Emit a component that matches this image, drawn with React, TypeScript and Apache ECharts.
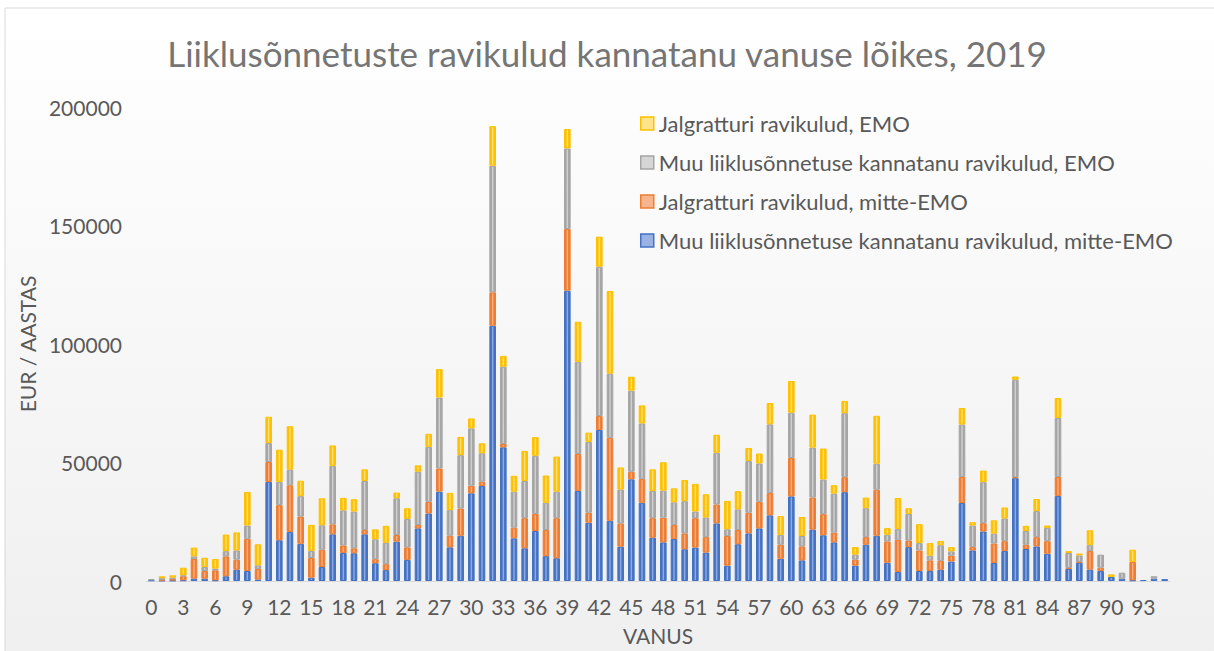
import React, { useEffect, useRef } from "react";
import * as echarts from "echarts";

const ages: string[] = Array.from({ length: 96 }, (_, i) => String(i));

const muuMitteEmo = [
  300, 200, 200, 300, 1000, 1000, 300, 2000, 4800, 4200,
  600, 41800, 17200, 20700, 15700, 1400, 5900, 19700, 11800, 11700,
  19700, 7500, 4600, 16600, 8900, 22200, 28500, 37700, 14200, 19100,
  37000, 40100, 107700, 56400, 18000, 13800, 21100, 10500, 9600, 122500,
  38000, 24600, 63700, 25400, 14500, 42900, 33000, 18300, 16300, 17700,
  13400, 14100, 12000, 24300, 6500, 15500, 20100, 22200, 27700, 9400,
  35700, 8700, 21700, 19300, 16300, 37500, 6500, 15300, 19100, 7700,
  3800, 14300, 4200, 4200, 4800, 8200, 32900, 12900, 20900, 7600,
  12700, 43400, 13500, 14600, 11500, 35900, 5100, 7700, 4800, 4200,
  1700, 1000, 300, 400, 1000, 800,
];

const jalgMitteEmo = [
  0, 300, 600, 1700, 8300, 3200, 4200, 8400, 4200, 13600,
  4500, 8400, 14800, 19700, 11500, 8300, 7300, 4200, 3200, 2100,
  1800, 1700, 2500, 2800, 5300, 1400, 4900, 9800, 4900, 11500,
  3200, 1800, 14100, 1400, 4500, 12700, 7200, 11000, 16900, 26000,
  15600, 4200, 5900, 35000, 9800, 3200, 10000, 8200, 10400, 5900,
  6700, 12400, 6500, 8000, 12500, 6000, 8700, 11200, 9400, 5900,
  16200, 5900, 13500, 8900, 4100, 6300, 2500, 3200, 19400, 9000,
  13600, 2800, 8700, 4500, 3700, 2500, 11000, 1400, 3500, 8200,
  4100, 400, 1800, 3900, 5300, 8000, 400, 300, 7900, 1400,
  0, 0, 7700, 0, 0, 0,
];

const muuEmo = [
  500, 700, 600, 400, 1100, 1700, 700, 2200, 3900, 5600,
  1500, 8000, 9800, 6600, 8600, 3000, 10300, 24700, 14800, 15500,
  20700, 8400, 9000, 15500, 12000, 22500, 23200, 29900, 10800, 22500,
  24200, 12000, 53400, 32600, 15200, 15700, 24500, 11500, 11200, 34000,
  38900, 29900, 63000, 27100, 14300, 34200, 23500, 11500, 11400, 9600,
  13600, 2800, 8300, 21800, 2800, 8700, 21800, 16200, 29000, 4200,
  19100, 4400, 21100, 14600, 16500, 27000, 2100, 12200, 11000, 2800,
  4500, 11200, 3100, 2000, 6600, 1800, 22100, 9100, 17300, 4200,
  9600, 41100, 5800, 11000, 5600, 24900, 6300, 2800, 2400, 5500,
  0, 2500, 0, 0, 1000, 0,
];

const jalgEmo = [
  0, 800, 1000, 3200, 3700, 3900, 4100, 7000, 7600, 14200,
  8900, 11100, 13600, 18300, 6500, 11000, 11400, 8600, 5300, 5200,
  4900, 4200, 7200, 2400, 4500, 2700, 5500, 12000, 7300, 7700,
  4200, 4200, 16700, 4600, 6700, 12700, 7900, 11500, 14800, 8200,
  16900, 3900, 12700, 34900, 9300, 5900, 7600, 9100, 12000, 5900,
  8900, 11700, 9800, 7600, 12000, 7700, 5500, 4200, 9000, 7900,
  13400, 8000, 13900, 13100, 3500, 5200, 3200, 4500, 20200, 2800,
  13100, 2400, 8000, 5300, 1800, 1800, 7000, 1400, 4900, 5600,
  4600, 1400, 2200, 5100, 1000, 8400, 800, 800, 6300, 0,
  1100, 0, 5200, 0, 0, 0,
];

const seriesNames = [
  "Muu liiklusõnnetuse kannatanu ravikulud, mitte-EMO",
  "Jalgratturi ravikulud, mitte-EMO",
  "Muu liiklusõnnetuse kannatanu ravikulud, EMO",
  "Jalgratturi ravikulud, EMO",
];
const seriesData = [muuMitteEmo, jalgMitteEmo, muuEmo, jalgEmo];
const mainColors = ["#4472C4", "#ED7D31", "#A5A5A5", "#FFC000"];
const lightColors = ["#9BB3E2", "#F7B58E", "#D6D6D6", "#FFE48A"];

const FONT = "Lato, 'Open Sans', sans-serif";

export default function App() {
  const ref = useRef<HTMLDivElement>(null);

  useEffect(() => {
    if (!ref.current) return;
    const chart = echarts.init(ref.current, undefined, { renderer: "svg" });

    const series = seriesNames.map((name, i) => ({
      name,
      type: "bar",
      stack: "total",
      barCategoryGap: "38%",
      data: seriesData[i].map((v) => (v === 0 ? null : v)),
      itemStyle: {
        color: new echarts.graphic.LinearGradient(1, 0, 0, 0, [
          { offset: 0, color: mainColors[i] },
          { offset: 0.28, color: mainColors[i] },
          { offset: 0.5, color: lightColors[i] },
          { offset: 0.72, color: mainColors[i] },
          { offset: 1, color: mainColors[i] },
        ]),
        borderColor: mainColors[i],
        borderWidth: 1,
      },
      emphasis: { disabled: true },
    }));

    const legendOrder = [3, 2, 1, 0];

    chart.setOption({
      animation: false,
      graphic: [
        {
          type: "rect",
          z: -10,
          silent: true,
          shape: { x: 5, y: 8, width: 1240, height: 700 },
          style: {
            fill: new echarts.graphic.LinearGradient(0, 0, 0, 1, [
              { offset: 0, color: "#ffffff" },
              { offset: 1, color: "#eeeeee" },
            ]),
            stroke: "#d9d9d9",
            lineWidth: 1,
          },
        },
      ],
      title: {
        text: "Liiklusõnnetuste ravikulud kannatanu vanuse lõikes, 2019",
        left: "center",
        top: 30,
        textStyle: {
          fontFamily: FONT,
          fontSize: 35,
          fontWeight: "normal",
          color: "#757575",
        },
      },
      legend: {
        orient: "vertical",
        left: 635,
        top: 106,
        itemWidth: 13,
        itemHeight: 13,
        itemGap: 14,
        icon: "rect",
        textStyle: {
          fontFamily: FONT,
          fontSize: 22,
          color: "#595959",
          lineHeight: 25,
        },
        data: legendOrder.map((i) => ({
          name: seriesNames[i],
          itemStyle: {
            color: lightColors[i],
            borderColor: mainColors[i],
            borderWidth: 1.5,
          },
        })),
      },
      grid: { left: 146, right: 44, top: 107, bottom: 70 },
      xAxis: {
        type: "category",
        data: ages,
        name: "VANUS",
        nameLocation: "middle",
        nameGap: 44,
        nameTextStyle: { fontFamily: FONT, fontSize: 21, color: "#595959" },
        axisLine: { lineStyle: { color: "#d9d9d9" } },
        axisTick: { show: false },
        axisLabel: {
          interval: 2,
          fontFamily: FONT,
          fontSize: 21,
          color: "#595959",
          margin: 15,
        },
      },
      yAxis: {
        type: "value",
        min: 0,
        max: 200000,
        interval: 50000,
        name: "EUR / AASTAS",
        nameLocation: "middle",
        nameGap: 106,
        nameRotate: 90,
        nameTextStyle: { fontFamily: FONT, fontSize: 21, color: "#595959" },
        splitLine: { show: false },
        axisLine: { show: false },
        axisTick: { show: false },
        axisLabel: {
          fontFamily: FONT,
          fontSize: 21,
          color: "#595959",
          margin: 24,
          formatter: (v: number) => String(v),
        },
      },
      series,
    });

    return () => chart.dispose();
  }, []);

  return (
    <div
      ref={ref}
      style={{ position: "absolute", left: 0, top: 0, width: 1214, height: 651 }}
    />
  );
}
